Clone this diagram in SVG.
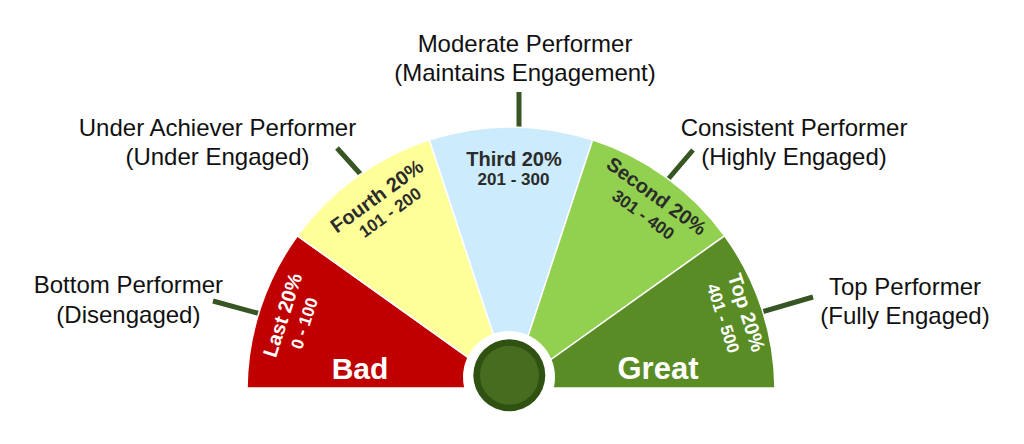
<svg xmlns="http://www.w3.org/2000/svg" width="1024" height="444" viewBox="0 0 1024 444">
<style>
.lbl{font-family:"Liberation Sans",Arial,sans-serif;font-size:24px;fill:#111;text-anchor:middle}
.seg{stroke:#fff;stroke-width:1.5}
.t{font-family:"Liberation Sans",Arial,sans-serif;font-weight:bold;font-size:20px;text-anchor:middle}
.r{font-family:"Liberation Sans",Arial,sans-serif;font-weight:bold;font-size:17px;text-anchor:middle}
.big{font-family:"Liberation Sans",Arial,sans-serif;font-weight:bold;font-size:30px;fill:#fff;text-anchor:middle}
.dk{fill:#2b2b2b}
.wh{fill:#fff}
.tick{stroke:#375623;stroke-width:5;fill:none}
</style>
<rect width="1024" height="444" fill="#fff"/>
<g id="connectors">
<line class="tick" x1="213" y1="301" x2="268" y2="316"/>
<line class="tick" x1="337" y1="148" x2="364" y2="178"/>
<line class="tick" x1="519" y1="92" x2="519" y2="136"/>
<line class="tick" x1="693" y1="150" x2="664" y2="184"/>
<line class="tick" x1="813" y1="297" x2="758" y2="313"/>
</g>
<g id="seg-last">
<path class="seg" fill="#C00000" d="M511,388 L247,388 A264,264 0 0 1 297.4,235.8 Z"/>
<text class="t wh" transform="translate(282.5,315) rotate(-72)" y="7">Last 20%</text>
<text class="r wh" transform="translate(304.2,323.3) rotate(-72)" y="6">0 - 100</text>
<text class="big" x="360" y="379">Bad</text>
</g>
<g id="seg-fourth">
<path class="seg" fill="#FFFF99" d="M511,388 L297.4,235.8 A264,264 0 0 1 429.4,139.9 Z"/>
<text class="t dk" transform="translate(376.7,196) rotate(-36)" y="7">Fourth 20%</text>
<text class="r dk" transform="translate(390,212.3) rotate(-36)" y="6">101 - 200</text>
</g>
<g id="seg-third">
<path class="seg" fill="#CCEBFC" d="M511,388 L429.4,139.9 A264,264 0 0 1 592.6,139.9 Z"/>
<text class="t dk" x="514" y="166">Third 20%</text>
<text class="r dk" x="513.5" y="185">201 - 300</text>
</g>
<g id="seg-second">
<path class="seg" fill="#92D050" d="M511,388 L592.6,139.9 A264,264 0 0 1 724.6,235.8 Z"/>
<text class="t dk" transform="translate(656.7,196) rotate(36)" y="7">Second 20%</text>
<text class="r dk" transform="translate(643.3,214.5) rotate(36)" y="6">301 - 400</text>
</g>
<g id="seg-top">
<path class="seg" fill="#5A8C25" d="M511,388 L724.6,235.8 A264,264 0 0 1 775,388 Z"/>
<text class="t wh" transform="translate(746.7,312.5) rotate(72)" y="7">Top 20%</text>
<text class="r wh" transform="translate(723.3,318.3) rotate(72)" y="6">401 - 500</text>
<text class="big" x="658" y="379" style="font-size:31px">Great</text>
</g>
<g id="hub">
<circle cx="509" cy="377" r="46" fill="#fff"/>
<circle cx="509.3" cy="375.2" r="36" fill="#2F5213"/>
<circle cx="509.5" cy="375.2" r="29.5" fill="#466D1F"/>
</g>
<g id="label-bottom">
<text class="lbl" x="128.4" y="293">Bottom Performer</text>
<text class="lbl" x="128.4" y="322.5">(Disengaged)</text>
</g>
<g id="label-under">
<text class="lbl" x="217.5" y="136">Under Achiever Performer</text>
<text class="lbl" x="217.5" y="165">(Under Engaged)</text>
</g>
<g id="label-moderate">
<text class="lbl" x="525" y="51.7">Moderate Performer</text>
<text class="lbl" x="525" y="80.5">(Maintains Engagement)</text>
</g>
<g id="label-consistent">
<text class="lbl" x="794" y="136">Consistent Performer</text>
<text class="lbl" x="794" y="165">(Highly Engaged)</text>
</g>
<g id="label-top">
<text class="lbl" x="905" y="295">Top Performer</text>
<text class="lbl" x="905" y="323.5">(Fully Engaged)</text>
</g>
</svg>
